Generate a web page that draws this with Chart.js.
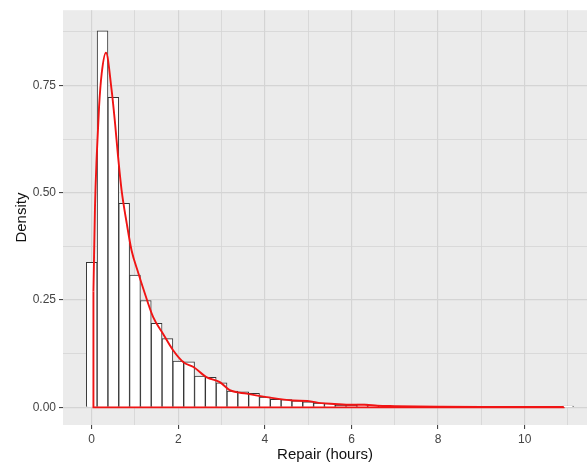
<!DOCTYPE html>
<html>
<head>
<meta charset="utf-8">
<script src="https://cdn.jsdelivr.net/npm/chart.js@4/dist/chart.umd.min.js"></script>
<style>
  html, body { margin: 0; padding: 0; background: #fff; overflow: hidden; }
  #wrap { width: 587px; height: 465px; }
</style>
</head>
<body>
<div id="wrap"><canvas id="chart" width="587" height="465"></canvas></div>
<script>
// histogram bins (0.25 h wide, centred on the value)
const binCenters = [0, 0.25, 0.5, 0.75, 1, 1.25, 1.5, 1.75, 2, 2.25, 2.5, 2.75, 3, 3.25, 3.5, 3.75,
  4, 4.25, 4.5, 4.75, 5, 5.25, 5.5, 5.75, 6, 6.25, 6.5, 6.75, 7, 7.25, 7.5, 7.75,
  8, 8.25, 8.5, 8.75, 9, 9.25, 9.5, 9.75, 10, 10.25, 10.5, 10.75, 11];
const binDensity = [0.338, 0.877, 0.722, 0.475, 0.308, 0.249, 0.196, 0.160, 0.108, 0.106, 0.073, 0.070, 0.057, 0.038, 0.036, 0.033,
  0.024, 0.019, 0.018, 0.015, 0.013, 0.010, 0.009, 0.005, 0.005, 0.008, 0.004, 0.003, 0.003, 0.002, 0.002, 0.001,
  0.001, 0.001, 0.001, 0, 0.001, 0, 0.001, 0, 0, 0, 0, 0, 0.003];

// kernel density estimate
const kdeX = [0.04, 0.076, 0.115, 0.17, 0.23, 0.33, 0.46, 0.54, 0.61, 0.69, 0.81, 0.92, 1.08, 1.19, 1.42, 1.65,
  1.88, 2.12, 2.35, 2.66, 2.96, 3.19, 3.58, 4.04, 4.65, 4.98, 5.3, 5.6, 6.0, 6.3, 6.6, 7.0, 7.5, 8, 9, 10, 10.9];
const kdeY = [0.27, 0.467, 0.583, 0.70, 0.777, 0.826, 0.739, 0.661, 0.583, 0.506, 0.428, 0.366, 0.312, 0.277, 0.21, 0.171,
  0.133, 0.105, 0.094, 0.070, 0.059, 0.040, 0.032, 0.024, 0.016, 0.015, 0.010, 0.008, 0.006, 0.006, 0.004, 0.003, 0.002, 0.0015, 0.001, 0.001, 0.001];

const xTicks = [0, 1, 2, 3, 4, 5, 6, 7, 8, 9, 10, 11];
const yTicks = [0, 0.125, 0.25, 0.375, 0.5, 0.625, 0.75, 0.875];

const isMajorX = v => Math.abs(v % 2) < 1e-9;
const isMajorY = v => Math.abs((v / 0.25) - Math.round(v / 0.25)) < 1e-9;

const panelBg = {
  id: 'panelBg',
  beforeDraw(chart) {
    const { ctx, chartArea: a } = chart;
    ctx.save();
    ctx.fillStyle = '#ebebeb';
    ctx.fillRect(a.left, a.top, a.right - a.left, a.bottom - a.top);
    ctx.restore();
  }
};

const kdeFirst = { x: kdeX[0], y: kdeY[0] };
const kdeLast = { x: kdeX[kdeX.length - 1], y: kdeY[kdeY.length - 1] };

new Chart(document.getElementById('chart'), {
  type: 'bar',
  data: {
    datasets: [
      {
        type: 'line',
        order: 0,
        data: kdeX.map((x, i) => ({ x, y: kdeY[i] })),
        borderColor: '#f01414',
        borderWidth: 1.9,
        pointRadius: 0,
        cubicInterpolationMode: 'monotone',
        fill: false
      },
      {
        // outline of the density area: left edge and baseline
        type: 'line',
        order: 1,
        data: [kdeFirst, { x: kdeFirst.x, y: 0 }, { x: kdeLast.x, y: 0 }, kdeLast],
        borderColor: '#f01414',
        borderWidth: 1.9,
        pointRadius: 0,
        tension: 0,
        fill: false
      },
      {
        type: 'bar',
        order: 2,
        data: binCenters.map((x, i) => ({ x, y: binDensity[i] })),
        backgroundColor: '#ffffff',
        borderColor: '#333333',
        borderWidth: 1,
        barPercentage: 1,
        categoryPercentage: 1,
        grouped: false
      }
    ]
  },
  plugins: [panelBg],
  options: {
    responsive: false,
    animation: false,
    layout: { padding: { top: 10, right: 0, left: 0, bottom: 0 } },
    plugins: { legend: { display: false }, tooltip: { enabled: false } },
    scales: {
      x: {
        type: 'linear',
        min: -0.663,
        max: 11.44,
        offset: false,
        bounds: 'data',
        afterBuildTicks: s => { s.ticks = xTicks.map(v => ({ value: v })); },
        afterFit: s => { s.height = 40; },
        grid: {
          offset: false,
          color: '#d4d4d4',
          lineWidth: c => isMajorX(c.tick.value) ? 1.2 : 0.8,
          tickColor: c => isMajorX(c.tick.value) ? '#333333' : 'rgba(0,0,0,0)',
          tickLength: 4,
          tickWidth: 1
        },
        border: { display: false },
        ticks: {
          autoSkip: false,
          maxRotation: 0,
          padding: 3,
          color: '#444444',
          font: { family: 'Liberation Sans, Arial, sans-serif', size: 12 },
          callback: v => isMajorX(v) ? String(v) : ''
        },
        title: {
          display: true,
          text: 'Repair (hours)',
          color: '#111111',
          font: { family: 'Liberation Sans, Arial, sans-serif', size: 15 },
          padding: { top: 0, bottom: 1 }
        }
      },
      y: {
        type: 'linear',
        min: -0.041,
        max: 0.925,
        bounds: 'data',
        afterBuildTicks: s => { s.ticks = yTicks.map(v => ({ value: v })); },
        afterFit: s => { s.width = 63; },
        grid: {
          color: '#d4d4d4',
          lineWidth: c => isMajorY(c.tick.value) ? 1.2 : 0.8,
          tickColor: c => isMajorY(c.tick.value) ? '#333333' : 'rgba(0,0,0,0)',
          tickLength: 4,
          tickWidth: 1
        },
        border: { display: false },
        ticks: {
          autoSkip: false,
          padding: 3,
          color: '#444444',
          font: { family: 'Liberation Sans, Arial, sans-serif', size: 12 },
          callback: v => isMajorY(v) ? v.toFixed(2) : ''
        },
        title: {
          display: true,
          text: 'Density',
          color: '#111111',
          font: { family: 'Liberation Sans, Arial, sans-serif', size: 15 },
          padding: { top: 13, bottom: 0 }
        }
      }
    }
  }
});
</script>
</body>
</html>
